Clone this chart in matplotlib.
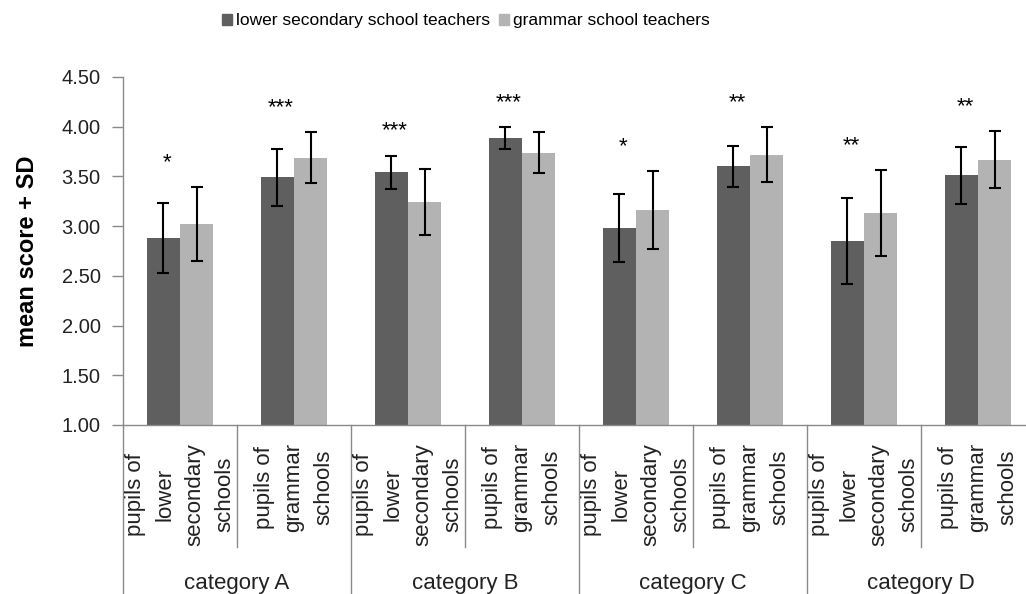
import numpy as np
import matplotlib
matplotlib.use('Agg')
import matplotlib.pyplot as plt
from matplotlib.patches import Patch

plt.rcParams['font.family'] = ['Liberation Sans', 'DejaVu Sans']

# datos
grupos = ['pupils of\nlower\nsecondary\nschools', 'pupils of\ngrammar\nschools'] * 4
categorias = ['category A', 'category B', 'category C', 'category D']
series = ['lower secondary school teachers', 'grammar school teachers']

media_lower = [2.88, 3.49, 3.54, 3.89, 2.98, 3.60, 2.85, 3.51]
sd_lower = [0.35, 0.29, 0.17, 0.11, 0.34, 0.21, 0.43, 0.29]
media_gram = [3.02, 3.69, 3.24, 3.74, 3.16, 3.72, 3.13, 3.67]
sd_gram = [0.37, 0.26, 0.33, 0.21, 0.39, 0.28, 0.43, 0.29]
signif = ['*', '***', '***', '***', '*', '**', '**', '**']

c_osc = '#5f5f5f'
c_cla = '#b3b3b3'
c_eje = '#8a8a8a'

fig = plt.figure(figsize=(10.26, 5.94), dpi=100)
ax = fig.add_axes([123 / 1026, (594 - 425) / 594, 903 / 1026, 348 / 594])

x = np.arange(len(grupos))
ancho = 0.29
err_kw = dict(ecolor='black', elinewidth=1.5, capsize=4, capthick=1.5)
ax.bar(x - ancho / 2, media_lower, ancho, color=c_osc, yerr=sd_lower, error_kw=err_kw,
       label=series[0], zorder=2)
ax.bar(x + ancho / 2, media_gram, ancho, color=c_cla, yerr=sd_gram, error_kw=err_kw,
       label=series[1], zorder=2)

# asteriscos de significancia
for i, s in enumerate(signif):
    tope = max(media_lower[i] + sd_lower[i], media_gram[i] + sd_gram[i])
    ax.text(x[i] - ancho / 2 + 0.03, tope + 0.19, s, ha='center', va='baseline', fontsize=16)

ax.set_ylim(1, 4.5)
ax.set_xlim(-0.5, -0.5 + 903 / 114)
ax.set_yticks(np.arange(1, 4.51, 0.5))
ax.set_yticklabels([f'{v:.2f}' for v in np.arange(1, 4.51, 0.5)], fontsize=14.5, color='#222222')
ax.set_xticks([])
ax.tick_params(axis='y', length=8, width=1, color=c_eje, direction='out', pad=8)
for lado in ['top', 'right']:
    ax.spines[lado].set_visible(False)
for lado in ['left', 'bottom']:
    ax.spines[lado].set_color(c_eje)
    ax.spines[lado].set_linewidth(1)
ax.set_ylabel('mean score + SD', fontsize=17, fontweight='bold', labelpad=16)

# etiquetas del eje x en dos niveles
trans = ax.get_xaxis_transform()
for i, g in enumerate(grupos):
    ax.text(x[i], -0.052, g, rotation=90, ha='center', va='top', multialignment='center',
            fontsize=16, linespacing=1.55, transform=trans, color='#222222')
for k in range(4):
    sep = 2 * k + 0.5
    ax.plot([sep, sep], [0, -0.351], color=c_eje, lw=1, transform=trans, clip_on=False)
    cat = 2 * k - 0.5
    ax.plot([cat, cat], [0, -0.6], color=c_eje, lw=1, transform=trans, clip_on=False)
    ax.text(2 * k + 0.5, -0.455, categorias[k], ha='center', va='center', fontsize=16,
            transform=trans, color='#222222')

handles = [Patch(color=c_osc), Patch(color=c_cla)]
fig.legend(handles, series, loc='center', bbox_to_anchor=(466 / 1026, 1 - 21 / 594), ncol=2,
           frameon=False, fontsize=12.5, handlelength=0.55, handleheight=0.55,
           handletextpad=0.25, columnspacing=0.5)

plt.savefig('out.png', dpi=100)
